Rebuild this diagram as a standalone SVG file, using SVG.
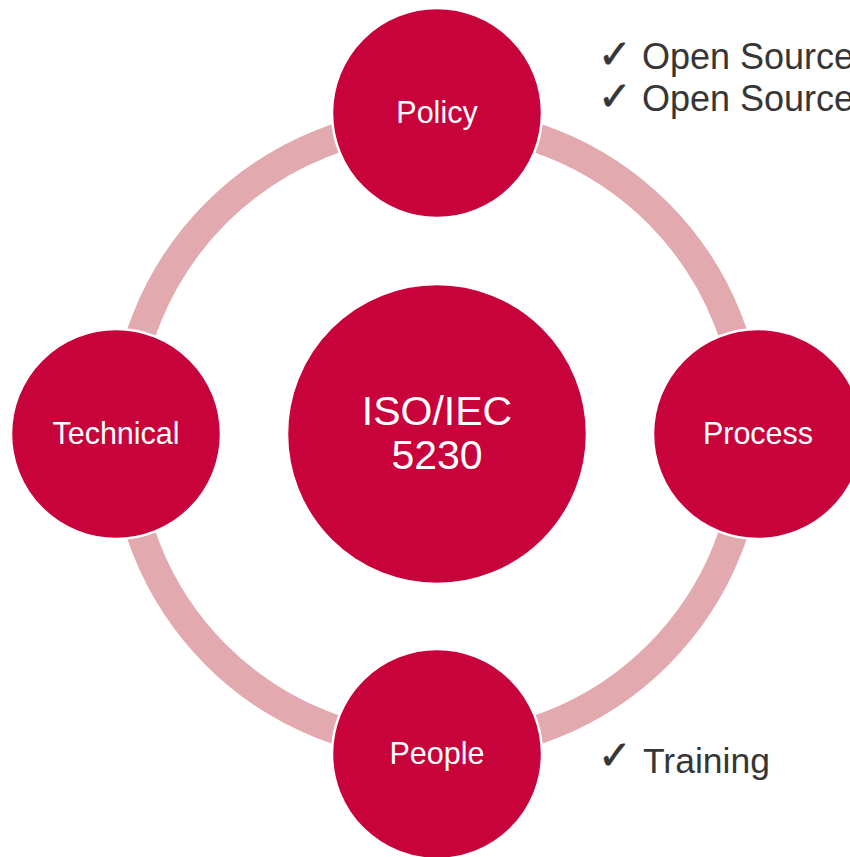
<svg xmlns="http://www.w3.org/2000/svg" width="850" height="857" viewBox="0 0 850 857">
<style>
.node{fill:#C8023A;stroke:#FFFFFF;stroke-width:2.5}
.lbl{font-family:"Liberation Sans",Arial,sans-serif;fill:#FFFFFF;text-anchor:middle}
.note{font-family:"Liberation Sans",Arial,sans-serif;fill:#363636}
.chk{font-family:"DejaVu Sans",sans-serif;fill:#363636;stroke:#363636;stroke-width:0.7;font-size:40px}
</style>
<rect width="850" height="857" fill="#FFFFFF"/>
<g id="connectors">
<circle cx="437" cy="434" r="312.5" fill="none" stroke="#E2A9AE" stroke-width="29"/>
</g>
<g id="node-center">
<circle class="node" cx="437" cy="434" r="150"/>
<text class="lbl" x="437" y="425" font-size="41">ISO/IEC</text>
<text class="lbl" x="437" y="469" font-size="41">5230</text>
</g>
<g id="node-policy">
<circle class="node" cx="437" cy="113" r="105"/>
<text class="lbl" x="437" y="123" font-size="30.5">Policy</text>
</g>
<g id="node-process">
<circle class="node" cx="758" cy="434" r="105"/>
<text class="lbl" x="758" y="444" font-size="30.5">Process</text>
</g>
<g id="node-people">
<circle class="node" cx="437" cy="754" r="105"/>
<text class="lbl" x="437" y="764" font-size="30.5">People</text>
</g>
<g id="node-technical">
<circle class="node" cx="116" cy="434" r="105"/>
<text class="lbl" x="116" y="444" font-size="30.5">Technical</text>
</g>
<g id="notes">
<text class="chk" x="598" y="68">✓</text>
<text class="note" x="642" y="69" font-size="36">Open Source</text>
<text class="chk" x="598" y="110">✓</text>
<text class="note" x="642" y="111" font-size="36">Open Source</text>
<text class="chk" x="598" y="769">✓</text>
<text class="note" x="643" y="773" font-size="35.5">Training</text>
</g>
</svg>
